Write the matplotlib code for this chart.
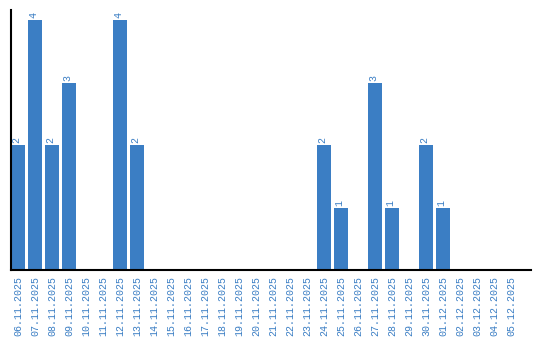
import matplotlib
matplotlib.use("Agg")
import matplotlib.pyplot as plt

# daily counts
dates = ["06.11.2025", "07.11.2025", "08.11.2025", "09.11.2025", "10.11.2025",
         "11.11.2025", "12.11.2025", "13.11.2025", "14.11.2025", "15.11.2025",
         "16.11.2025", "17.11.2025", "18.11.2025", "19.11.2025", "20.11.2025",
         "21.11.2025", "22.11.2025", "23.11.2025", "24.11.2025", "25.11.2025",
         "26.11.2025", "27.11.2025", "28.11.2025", "29.11.2025", "30.11.2025",
         "01.12.2025", "02.12.2025", "03.12.2025", "04.12.2025", "05.12.2025"]
counts = [2, 4, 2, 3, 0, 0, 4, 2, 0, 0, 0, 0, 0, 0, 0,
          0, 0, 0, 2, 1, 0, 3, 1, 0, 2, 1, 0, 0, 0, 0]

blue = "#3b7ec4"
font = "Liberation Mono"

fig = plt.figure(figsize=(5.4, 3.4), dpi=100)
ax = fig.add_axes([10.5 / 540, 70 / 340, 520.5 / 540, 260 / 340])

x = range(len(dates))
ax.bar(x, counts, width=0.82, color=blue)
for xi, c in zip(x, counts):
    if c > 0:
        ax.text(xi - 0.1, c + 0.03, str(c), rotation=90, ha="center", va="bottom",
                color=blue, fontsize=7.2, family=font)

ax.set_xlim(-0.44, 30.18)
ax.set_ylim(0, 4.16)
ax.set_xticks(list(x))
ax.set_xticklabels(dates, rotation=90, color=blue, fontsize=7.2, family=font)
ax.tick_params(axis="x", length=0, pad=4)
ax.set_yticks([])
ax.spines["top"].set_visible(False)
ax.spines["right"].set_visible(False)
ax.spines["left"].set_linewidth(1.5)
ax.spines["bottom"].set_linewidth(1.5)

fig.savefig("out.png", dpi=100)
